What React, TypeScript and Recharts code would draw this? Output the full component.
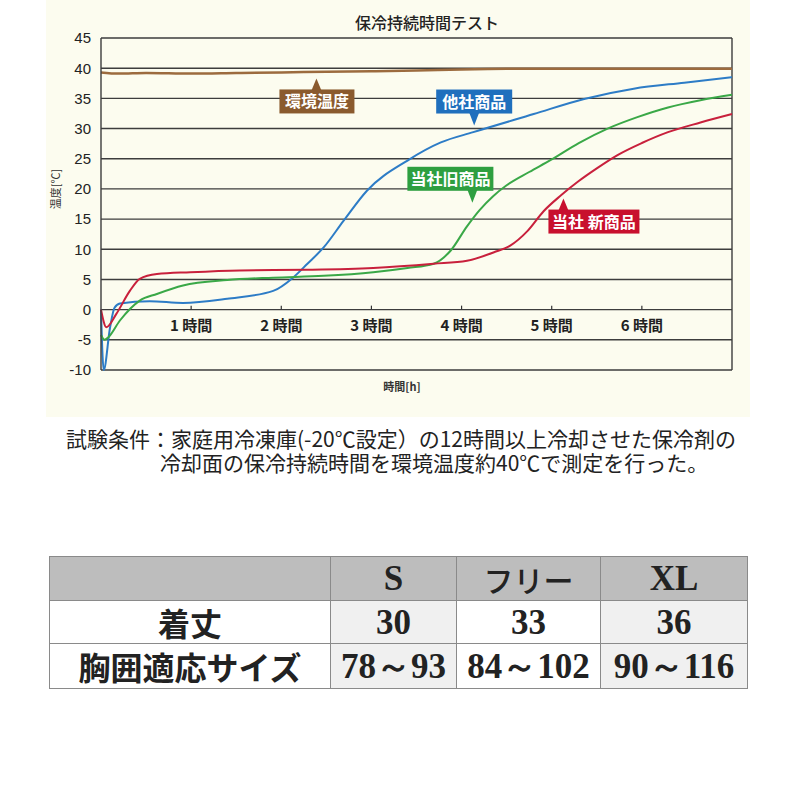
import React from 'react';
import { LineChart, Line, XAxis, YAxis, CartesianGrid, ReferenceLine, ReferenceDot } from 'recharts';

// 経過時間 [h] と温度 [℃]
const ambientHours = [0, 0.2, 0.5, 1, 1.5, 2, 2.5, 3, 3.5, 4, 4.5, 5, 6, 7];
const ambientTemps = [39.3, 39.1, 39.2, 39.1, 39.2, 39.3, 39.4, 39.5, 39.6, 39.8, 39.9, 39.9, 39.9, 39.9];

const otherHours = [0, 0.03, 0.1, 0.15, 0.21, 0.54, 0.91, 1.4, 1.91, 2.13, 2.29, 2.47, 2.69, 2.95, 3.4, 3.77, 4.13, 4.8, 5.36, 5.91, 6.47, 7.0];
const otherTemps = [0, -10, -3, 0.3, 1, 1.4, 1.1, 1.8, 3.1, 5.3, 7.6, 10.3, 14.7, 19.7, 24.7, 27.7, 29.4, 32.4, 34.9, 36.6, 37.6, 38.5];

const oldHours = [0, 0.04, 0.08, 0.21, 0.43, 0.62, 0.91, 1.4, 1.91, 2.47, 3.02, 3.4, 3.69, 3.88, 4.06, 4.2, 4.35, 4.5, 4.75, 4.99, 5.3, 5.62, 5.95, 6.29, 6.65, 7.0];
const oldTemps = [-4.2, -5, -4.6, -1.8, 1.5, 2.6, 4.0, 4.9, 5.3, 5.6, 6.2, 6.9, 7.6, 9.8, 13.8, 16.5, 18.8, 20.6, 22.8, 24.8, 27.6, 30.0, 31.9, 33.5, 34.7, 35.6];

const newHours = [0, 0.06, 0.17, 0.32, 0.43, 0.62, 0.99, 1.54, 2.29, 3.02, 3.69, 4.06, 4.36, 4.54, 4.73, 4.91, 5.1, 5.3, 5.5, 5.73, 6.0, 6.29, 6.65, 7.0];
const newTemps = [0, -2.9, -0.7, 3.1, 5.1, 5.9, 6.2, 6.5, 6.6, 6.9, 7.6, 8.1, 9.5, 10.6, 13.0, 16.3, 18.9, 21.3, 23.4, 25.6, 27.6, 29.4, 31.0, 32.4];

const yTicks = [-10, -5, 0, 5, 10, 15, 20, 25, 30, 35, 40, 45];
const hourTicks = [1, 2, 3, 4, 5, 6];

const tableHeader = ['', 'S', 'フリー', 'XL'];
const tableRows = [
  ['着丈', '30', '33', '36'],
  ['胸囲適応サイズ', '78～93', '84～102', '90～116'],
];

const note = '試験条件：家庭用冷凍庫(-20℃設定）の12時間以上冷却させた保冷剤の\n冷却面の保冷持続時間を環境温度約40℃で測定を行った。';

const toData = (hours: number[], temps: number[]) => hours.map((t, i) => ({ t, v: temps[i] }));

const JP = '"Noto Sans CJK JP", sans-serif';

type CalloutProps = {
  cx?: number;
  cy?: number;
  text: string;
  color: string;
  w: number;
  left: number;
  up: boolean;
};

const Callout = ({ cx = 0, cy = 0, text, color, w, left, up }: CalloutProps) => {
  const h = 24;
  const gap = up ? 11 : 12;
  const top = up ? cy + gap : cy - gap - h;
  const baseY = up ? cy + gap + 1 : cy - gap - 1;
  return (
    <g>
      <polygon points={`${cx - 5},${baseY} ${cx + 5},${baseY} ${cx},${cy}`} fill={color} />
      <rect x={cx + left} y={top} width={w} height={h} fill={color} />
      <text x={cx + left + w / 2} y={top + h / 2 + 6} textAnchor="middle" fill="#fff" fontSize={16} fontWeight={700} fontFamily={JP}>
        {text}
      </text>
    </g>
  );
};

const HourTick = ({ cx = 0, cy = 0, label }: { cx?: number; cy?: number; label: string }) => (
  <g>
    <line x1={cx} y1={cy} x2={cx} y2={cy - 4} stroke="#333" strokeWidth={1.2} />
    <text x={cx} y={cy + 21} textAnchor="middle" fill="#222" fontSize={15} fontWeight={700} fontFamily={JP}>
      {label}
    </text>
  </g>
);

const App: React.FC = () => {
  const cellBase: React.CSSProperties = {
    border: '1px solid #8a8a8a',
    textAlign: 'center',
    padding: 0,
    color: '#222',
    lineHeight: '1',
    overflow: 'hidden',
    whiteSpace: 'nowrap',
  };
  const colWidths = [281, 126, 144, 147];
  const rowHeights = [44, 43, 45];
  const valueFont: React.CSSProperties = { fontFamily: '"Liberation Serif", serif', fontWeight: 700, fontSize: 35 };
  const jpFont: React.CSSProperties = { fontFamily: JP, fontWeight: 700, fontSize: 32 };

  return (
    <div style={{ position: 'absolute', left: 0, top: 0, width: 800, height: 800, background: '#fff' }}>
      <div style={{ position: 'absolute', left: 46, top: 0, width: 704, height: 417, background: '#fcfcef' }} />
      <div
        style={{
          position: 'absolute', left: 327, top: 12, width: 200, textAlign: 'center',
          fontFamily: JP, fontSize: 16, fontWeight: 500, color: '#222', lineHeight: '20px',
        }}
      >
        保冷持続時間テスト
      </div>
      <div
        style={{
          position: 'absolute', left: 15, top: 182, width: 80, textAlign: 'center',
          transform: 'rotate(-90deg)', fontFamily: JP, fontSize: 11, color: '#333', lineHeight: '14px',
        }}
      >
        温度[℃]
      </div>
      <div
        style={{
          position: 'absolute', left: 362, top: 379, width: 80, textAlign: 'center',
          fontFamily: JP, fontSize: 11, fontWeight: 700, color: '#333', lineHeight: '14px',
        }}
      >
        時間[h]
      </div>
      <div style={{ position: 'absolute', left: 0, top: 0 }}>
        <LineChart width={800} height={420} margin={{ top: 38, right: 68, left: 51, bottom: 50 }}>
          <CartesianGrid vertical={false} stroke="#3d3d3d" strokeWidth={1.4} />
          <XAxis type="number" dataKey="t" domain={[0, 7]} hide allowDuplicatedCategory={false} />
          <YAxis
            type="number"
            domain={[-10, 45]}
            ticks={yTicks}
            width={50}
            tickLine={false}
            tickMargin={4}
            axisLine={{ stroke: '#3d3d3d', strokeWidth: 1.4 }}
            tick={{ fill: '#222', fontSize: 15, fontFamily: '"Liberation Sans", Arial, sans-serif' }}
            interval={0}
          />
          <ReferenceLine x={7} stroke="#3d3d3d" strokeWidth={1.4} />
          <Line data={toData(ambientHours, ambientTemps)} dataKey="v" type="monotone" stroke="#9c6b3e" strokeWidth={2.5} dot={false} isAnimationActive={false} />
          <Line data={toData(otherHours, otherTemps)} dataKey="v" type="monotone" stroke="#2d7cc6" strokeWidth={2} dot={false} isAnimationActive={false} />
          <Line data={toData(oldHours, oldTemps)} dataKey="v" type="monotone" stroke="#3aa847" strokeWidth={2} dot={false} isAnimationActive={false} />
          <Line data={toData(newHours, newTemps)} dataKey="v" type="monotone" stroke="#c8203c" strokeWidth={2} dot={false} isAnimationActive={false} />
          {hourTicks.map((h) => (
            <ReferenceDot key={h} x={h} y={0} r={0} shape={(p: any) => <HourTick cx={p.cx} cy={p.cy} label={`${h} 時間`} />} />
          ))}
          <ReferenceDot x={2.39} y={38.3} r={0} shape={(p: any) => <Callout cx={p.cx} cy={p.cy} text="環境温度" color="#8a5a2e" w={75} left={-37} up />} />
          <ReferenceDot x={4.14} y={30.5} r={0} shape={(p: any) => <Callout cx={p.cx} cy={p.cy} text="他社商品" color="#1f6fbd" w={76} left={-38} up={false} />} />
          <ReferenceDot x={4.12} y={17.7} r={0} shape={(p: any) => <Callout cx={p.cx} cy={p.cy} text="当社旧商品" color="#2e9f40" w={86} left={-65} up={false} />} />
          <ReferenceDot x={5.13} y={18.4} r={0} shape={(p: any) => <Callout cx={p.cx} cy={p.cy} text="当社 新商品" color="#c8102e" w={91} left={-15} up />} />
        </LineChart>
      </div>
      <div
        style={{
          position: 'absolute', left: 160, top: 426, fontFamily: JP, fontSize: 21, color: '#222',
          lineHeight: '24px', whiteSpace: 'pre', textIndent: -94,
        }}
      >
        {note}
      </div>
      <table
        style={{
          position: 'absolute', left: 49, top: 556, width: 698, borderCollapse: 'collapse', tableLayout: 'fixed',
        }}
      >
        <colgroup>
          {colWidths.map((w, i) => (
            <col key={i} style={{ width: w }} />
          ))}
        </colgroup>
        <tbody>
          <tr>
            {tableHeader.map((h, i) => (
              <td
                key={i}
                style={{
                  ...cellBase, height: rowHeights[0] - 1, background: '#bdbdbd',
                  ...(i === 2 ? { ...jpFont, fontWeight: 500, fontSize: 30 } : valueFont),
                }}
              >
                {h}
              </td>
            ))}
          </tr>
          {tableRows.map((row, r) => (
            <tr key={r}>
              {row.map((c, i) => (
                <td
                  key={i}
                  style={{
                    ...cellBase, height: rowHeights[r + 1] - 1,
                    background: i === 1 || i === 3 ? '#f0f0f0' : '#fff',
                    ...(i === 0 ? jpFont : valueFont),
                  }}
                >
                  {c}
                </td>
              ))}
            </tr>
          ))}
        </tbody>
      </table>
    </div>
  );
};

export default App;
